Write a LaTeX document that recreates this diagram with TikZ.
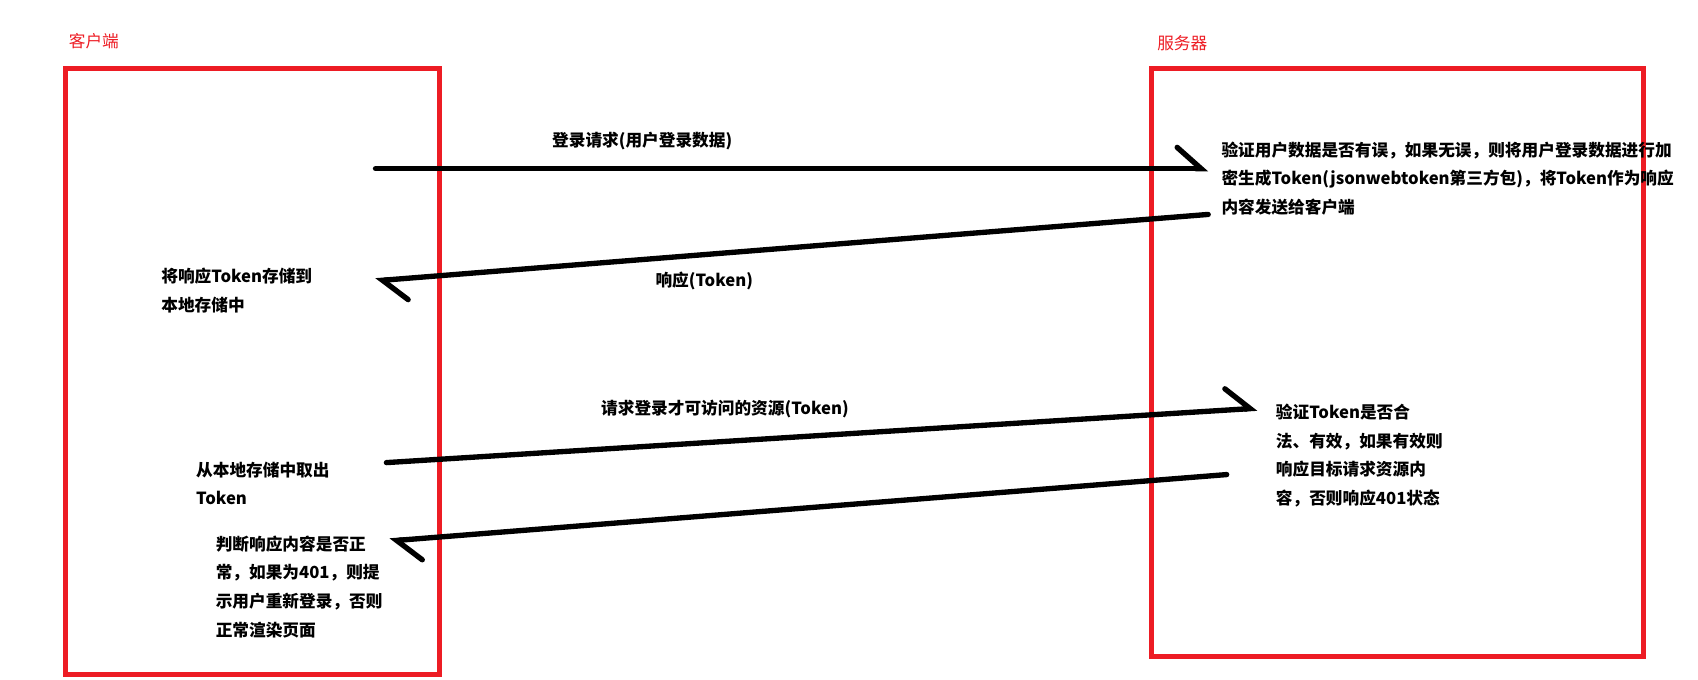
\documentclass[tikz,border=0pt]{standalone}
\usepackage{fontspec}
\setmainfont{Noto Sans CJK SC}
\usetikzlibrary{arrows.meta, positioning}
\definecolor{paintred}{RGB}{237,28,36}

\begin{document}
\begin{tikzpicture}[x=0.816pt, y=-0.816pt,
        side-box/.style={draw=paintred, line width=3.6pt},
        side-label/.style={text=paintred, font=\fontsize{12.5}{15}\selectfont, inner sep=0pt, anchor=west},
        note/.style={font=\bfseries\fontsize{12.5}{21.5}\selectfont, align=left, inner sep=0pt, anchor=north west},
        msg/.style={font=\bfseries\fontsize{12.5}{15}\selectfont, inner sep=0pt},
        arrow/.style={line width=4pt, line cap=round, -{Straight Barb[harpoon, length=18pt, width=32pt, line cap=round]}}
    ]
    \useasboundingbox (0,0) rectangle (1560,624);

    % Sides
    \draw[side-box] (60,63) rectangle (404,620);
    \draw[side-box] (1058,63) rectangle (1510,603);
    \node[side-label] (client) at (63,38) {客户端};
    \node[side-label] (server) at (1063,40) {服务器};

    % Client notes
    \node[note] (store) at (148,246) {将响应Token存储到\\本地存储中};
    \node[note] (fetch) at (180,424) {从本地存储中取出\\Token};
    \node[note] (judge) at (198,492) {判断响应内容是否正\\常，如果为401，则提\\示用户重新登录，否则\\正常渲染页面};

    % Server notes
    \node[note] (verify-user) at (1122,130) {验证用户数据是否有误，如果无误，则将用户登录数据进行加\\密生成Token(jsonwebtoken第三方包)，将Token作为响应\\内容发送给客户端};
    \node[note] (verify-token) at (1172,371) {验证Token是否合\\法、有效，如果有效则\\响应目标请求资源内\\容，否则响应401状态};

    % Arrow ends
    \coordinate (login-from) at (345,155);
    \coordinate (login-to) at (1110,155);
    \coordinate (token-from) at (1110,197);
    \coordinate (token-to) at (345,258);
    \coordinate (res-from) at (355,425);
    \coordinate (res-to) at (1155,375);
    \coordinate (reply-from) at (1127,436);
    \coordinate (reply-to) at (358,497);

    % Arrows
    \draw[arrow] (login-from) -- (login-to);
    \draw[arrow] (token-from) -- (token-to);
    \draw[arrow] (res-from) -- (res-to);
    \draw[arrow] (reply-from) -- (reply-to);

    % Messages
    \node[msg] (login) at (590,130) {登录请求(用户登录数据)};
    \node[msg] (token) at (647,258) {响应(Token)};
    \node[msg] (res) at (666,376) {请求登录才可访问的资源(Token)};

\end{tikzpicture}
\end{document}
